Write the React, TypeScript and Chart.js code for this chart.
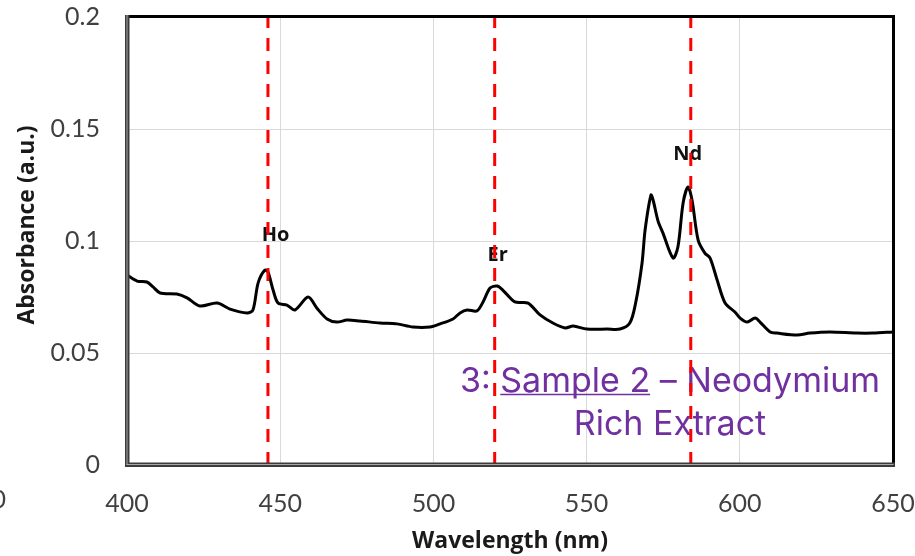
import { useEffect, useRef } from "react";
import { Chart, registerables } from "chart.js";

Chart.register(...registerables);

// ---------- data ----------
const wavelengths = [
  400, 403.3, 406.5, 408.5, 410.8, 416.3, 419.6, 423.8, 429.4, 433.6, 439.2, 441.1,
  442.8, 445.0, 446.0, 447.7, 449.3, 452.2, 454.8, 459.1, 462.0, 465.3, 468.5, 471.8,
  476.0, 482.6, 488.1, 493.3, 498.9, 502.2, 506.4, 508.7, 511.0, 514.2, 516.2, 518.5,
  520.8, 522.7, 526.6, 530.9, 534.8, 539.0, 543.0, 545.6, 550.1, 556.7, 560.9, 564.1,
  566.0, 568.1, 569.1, 571.0, 571.7, 573.3, 574.9, 578.2, 579.8, 581.5, 583.1, 584.4,
  586.4, 588.6, 590.3, 592.6, 595.2, 598.4, 600.1, 602.4, 605.0, 606.6, 609.9, 612.1,
  618.7, 622.9, 629.4, 638.2, 643.5, 650,
];
const absorbance = [
  0.0848, 0.0821, 0.0817, 0.0795, 0.0768, 0.0763, 0.0746, 0.0710, 0.0723, 0.0696, 0.0679, 0.0692,
  0.0813, 0.0870, 0.0862, 0.0780, 0.0723, 0.0714, 0.0692, 0.0750, 0.0700, 0.0652, 0.0638, 0.0647,
  0.0643, 0.0634, 0.0630, 0.0616, 0.0616, 0.0630, 0.0652, 0.0679, 0.0692, 0.0688, 0.0728, 0.0790,
  0.0799, 0.0780, 0.0728, 0.0723, 0.0670, 0.0634, 0.0612, 0.0620, 0.0607, 0.0607, 0.0607, 0.0634,
  0.0723, 0.0902, 0.1050, 0.1205, 0.1183, 0.1090, 0.1036, 0.0924, 0.0973, 0.1170, 0.1241, 0.1183,
  0.1004, 0.0946, 0.0924, 0.0826, 0.0723, 0.0683, 0.0656, 0.0638, 0.0656, 0.0638, 0.0594, 0.0589,
  0.0580, 0.0589, 0.0594, 0.0589, 0.0589, 0.0594,
];

const markerWavelengths = [446, 520, 584];
const markerLabels = ["Ho", "Er", "Nd"];
const markerLabelX = [448.5, 521, 583];
const markerLabelY = [0.1027, 0.0938, 0.1386];

const xTicks = [400, 450, 500, 550, 600, 650];
const yTickLabels = ["0", "0.05", "0.1", "0.15", "0.2"];

const captionLine1Prefix = "3: ";
const captionLine1Underlined = "Sample 2";
const captionLine1Rest = " – Neodymium";
const captionLine2 = "Rich Extract";

const xTitle = "Wavelength (nm)";
const yTitle = "Absorbance (a.u.)";

// ---------- plugin ----------
const overlayPlugin = {
  id: "overlay",
  beforeDatasetsDraw(chart: any) {
    const { ctx, scales } = chart;
    const x = scales.x;
    const y = scales.y;
    ctx.save();
    ctx.font = "bold 20px 'Open Sans'";
    ctx.fillStyle = "#111111";
    ctx.textAlign = "center";
    ctx.textBaseline = "middle";
    markerLabels.forEach((t, i) => {
      ctx.fillText(t, x.getPixelForValue(markerLabelX[i]), y.getPixelForValue(markerLabelY[i]));
    });

    const purple = "#7030A0";
    ctx.fillStyle = purple;
    ctx.strokeStyle = purple;
    ctx.font = "34px Inter";
    ctx.textBaseline = "alphabetic";
    ctx.textAlign = "left";
    const cx = 670;
    const w1 = ctx.measureText(captionLine1Prefix).width;
    const w2 = ctx.measureText(captionLine1Underlined).width;
    const w3 = ctx.measureText(captionLine1Rest).width;
    const total = w1 + w2 + w3;
    const sx = cx - total / 2;
    const base1 = 392;
    ctx.fillText(captionLine1Prefix, sx, base1);
    ctx.fillText(captionLine1Underlined, sx + w1, base1);
    ctx.fillText(captionLine1Rest, sx + w1 + w2, base1);
    ctx.lineWidth = 1.5;
    ctx.beginPath();
    ctx.moveTo(sx + w1, base1 + 2.5);
    ctx.lineTo(sx + w1 + w2, base1 + 2.5);
    ctx.stroke();
    ctx.textAlign = "center";
    ctx.fillText(captionLine2, cx, 435);
    ctx.restore();
  },
  afterDraw(chart: any) {
    const { ctx, chartArea } = chart;
    const { left, right, top, bottom } = chartArea;
    ctx.save();
    ctx.fillStyle = "#000000";
    ctx.fillRect(left - 2, top - 2, right - left + 4, 3);
    ctx.fillRect(right - 1, top - 2, 3, bottom - top + 4);
    ctx.fillStyle = "#3c3c3c";
    ctx.fillRect(left - 2, top - 2, 4.5, bottom - top + 4);
    ctx.fillRect(left - 2, bottom - 2.5, right - left + 4, 4.5);
    ctx.fillStyle = "#a8a8a8";
    ctx.fillRect(left - 0.5, top - 2, 1, bottom - top + 2);
    ctx.fillRect(left - 0.5, bottom - 1, right - left + 1, 1);

    ctx.fillStyle = "#1a1a1a";
    ctx.font = "bold 23px 'Open Sans'";
    ctx.textAlign = "center";
    ctx.textBaseline = "middle";
    ctx.fillText(xTitle, (left + right) / 2, 541);
    ctx.save();
    ctx.translate(27, 225);
    ctx.rotate(-Math.PI / 2);
    ctx.fillText(yTitle, 0, 0);
    ctx.restore();

    ctx.fillStyle = "#404040";
    ctx.font = "25px Lato";
    ctx.textAlign = "right";
    ctx.fillText("0", 6, 500);
    ctx.restore();
  },
};

const zeroPadding = (s: any) => {
  s.paddingLeft = 0;
  s.paddingRight = 0;
  s.paddingTop = 0;
  s.paddingBottom = 0;
};

export default function App() {
  const ref = useRef<HTMLCanvasElement | null>(null);

  useEffect(() => {
    if (!ref.current) return;
    const curve = wavelengths.map((w, i) => ({ x: w, y: absorbance[i] }));
    const markers = markerWavelengths.map((w) => ({
      data: [
        { x: w, y: 0 },
        { x: w, y: 0.2 },
      ],
      borderColor: "#ff0000",
      borderWidth: 3,
      borderDash: [13, 10],
      pointRadius: 0,
      fill: false,
      order: 0,
    }));
    const chart = new Chart(ref.current, {
      type: "line",
      data: {
        datasets: [
          {
            data: curve,
            borderColor: "#000000",
            borderWidth: 3,
            pointRadius: 0,
            tension: 0.3,
            fill: false,
            order: 1,
          },
          ...markers,
        ],
      },
      options: {
        animation: false,
        responsive: false,
        events: [],
        layout: { padding: { top: 17, right: 22, left: 0, bottom: 0 } },
        plugins: { legend: { display: false }, tooltip: { enabled: false } },
        scales: {
          x: {
            type: "linear",
            min: 400,
            max: 650,
            afterBuildTicks: (s: any) => {
              s.ticks = xTicks.map((v) => ({ value: v }));
            },
            ticks: {
              font: { family: "Lato", size: 25 },
              color: "#404040",
              padding: 24,
              maxRotation: 0,
              autoSkip: false,
            },
            grid: { color: "#d9d9d9", lineWidth: 1, drawTicks: false },
            border: { display: false },
            afterFit: (s: any) => {
              s.height = 91;
              zeroPadding(s);
            },
          },
          y: {
            min: 0,
            max: 0.2,
            ticks: {
              stepSize: 0.05,
              font: { family: "Lato", size: 25 },
              color: "#404040",
              padding: 27,
              callback: (_v: any, i: number) => yTickLabels[i],
            },
            grid: { color: "#d9d9d9", lineWidth: 1, drawTicks: false },
            border: { display: false },
            afterFit: (s: any) => {
              s.width = 127;
              zeroPadding(s);
            },
          },
        },
      },
      plugins: [overlayPlugin],
    } as any);
    return () => chart.destroy();
  }, []);

  return (
    <div style={{ position: "fixed", left: 0, top: 0, width: 915, height: 556, background: "#ffffff" }}>
      <canvas ref={ref} width={915} height={556} style={{ display: "block" }} />
    </div>
  );
}
